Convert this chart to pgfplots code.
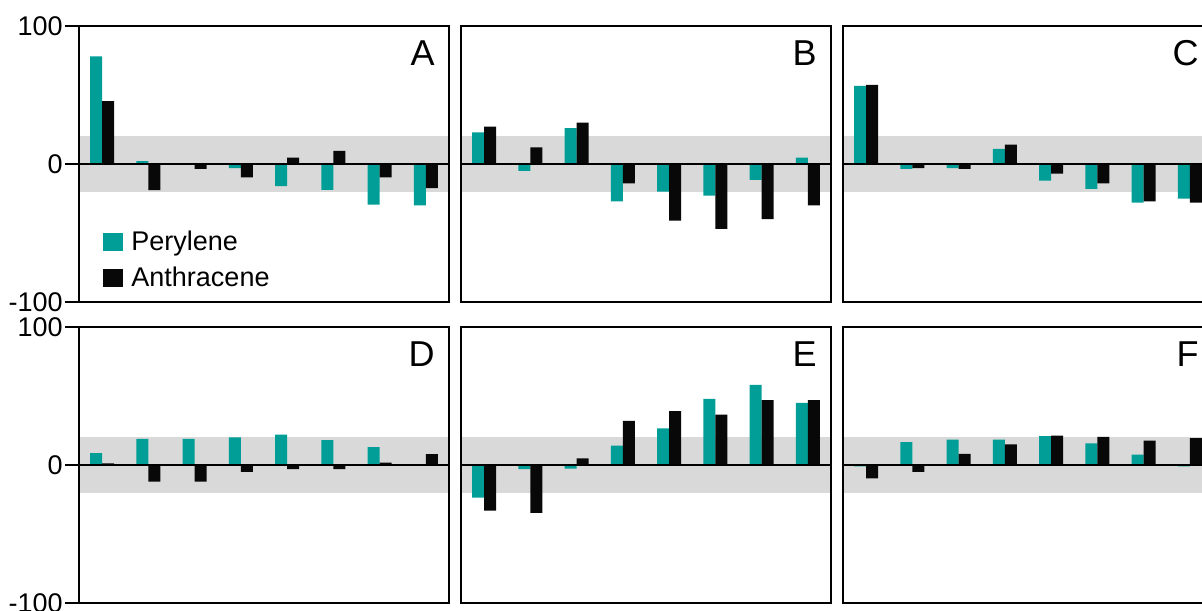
\documentclass[border=0pt]{standalone}
\usepackage{pgfplots}
\pgfplotsset{compat=1.18}
\usepackage{fontspec}
\setmainfont{Liberation Sans}
\definecolor{tealbar}{RGB}{0,158,150}
\definecolor{band}{RGB}{217,217,217}
\definecolor{blackbar}{RGB}{8,8,8}

\pgfplotsset{
  panel/.style={
    scale only axis, width=185pt, height=138pt,
    xmin=-0.5, xmax=7.5, ymin=-100, ymax=100,
    axis line style={line width=1pt},
    xtick=\empty, ytick=\empty,
    ybar, bar width=0.26,
    axis on top,
  },
  yaxisticks/.style={
    ytick={-100,0,100}, yticklabels={-100,0,100},
    ytick pos=left, tick align=outside, major tick length=7pt,
    tick style={line width=1pt, black},
    yticklabel style={font=\fontsize{13.5}{15}\selectfont, inner sep=1pt},
  },
  per/.style={fill=tealbar, draw=none, bar shift=-0.13},
  ant/.style={fill=blackbar, draw=none, bar shift=0.13},
}
\newcommand{\bandzero}{%
  \fill[band] (axis cs:-0.5,-20) rectangle (axis cs:7.5,20);}
\newcommand{\zeroline}{%
  \draw[line width=1pt] (axis cs:-0.5,0) -- (axis cs:7.5,0);}
\newcommand{\plabel}[1]{%
  \node[anchor=north east, inner sep=0pt, xshift=-7pt, yshift=-7pt,
        font=\fontsize{18}{20}\selectfont] at (rel axis cs:1,1) {#1};}

\begin{document}
\begin{tikzpicture}
\useasboundingbox (0,0) rectangle (601pt,-305pt);

% ---------- A ----------
\begin{axis}[panel, yaxisticks, at={(39.5pt,-151pt)}, anchor=south west,
  legend style={at={(rel axis cs:0.065,0.27)}, anchor=north west,
    draw=none, fill=none, inner sep=0pt, row sep=3.5pt,
    font=\fontsize{13.5}{15}\selectfont,
    nodes={inner sep=1.5pt},
    /tikz/every odd column/.append style={column sep=2.5pt}},
  legend cell align=left,
  legend image code/.code={\fill[#1] (0pt,-4.5pt) rectangle (10pt,4.5pt);}]
\bandzero
\addplot[per] coordinates {(0,78) (1,2) (2,0) (3,-3) (4,-16) (5,-18.7) (6,-29.5) (7,-30)};
\addplot[ant] coordinates {(0,45.6) (1,-19) (2,-3.6) (3,-9.6) (4,4.6) (5,9.6) (6,-9.6) (7,-17.5)};
\zeroline
\plabel{A}
\legend{Perylene,Anthracene}
\end{axis}

% ---------- B ----------
\begin{axis}[panel, at={(230.5pt,-151pt)}, anchor=south west]
\bandzero
\addplot[per] coordinates {(0,23) (1,-5) (2,26) (3,-27) (4,-20) (5,-23) (6,-11.5) (7,4.6)};
\addplot[ant] coordinates {(0,27) (1,12) (2,30) (3,-14) (4,-41) (5,-47) (6,-40) (7,-30)};
\zeroline
\plabel{B}
\end{axis}

% ---------- C ----------
\begin{axis}[panel, at={(421.5pt,-151pt)}, anchor=south west]
\bandzero
\addplot[per] coordinates {(0,56.7) (1,-3.6) (2,-3) (3,11) (4,-12) (5,-18) (6,-28) (7,-25)};
\addplot[ant] coordinates {(0,57.4) (1,-3) (2,-3.6) (3,14) (4,-7) (5,-14) (6,-27) (7,-28)};
\zeroline
\plabel{C}
\end{axis}

% ---------- D ----------
\begin{axis}[panel, yaxisticks, at={(39.5pt,-301.5pt)}, anchor=south west]
\bandzero
\addplot[per] coordinates {(0,8.7) (1,19) (2,19) (3,20) (4,22) (5,18) (6,13) (7,0)};
\addplot[ant] coordinates {(0,1.2) (1,-12) (2,-12) (3,-5) (4,-3) (5,-3) (6,1.7) (7,7.8)};
\zeroline
\plabel{D}
\end{axis}

% ---------- E ----------
\begin{axis}[panel, at={(230.5pt,-301.5pt)}, anchor=south west]
\bandzero
\addplot[per] coordinates {(0,-23.7) (1,-3) (2,-2.7) (3,14) (4,26.6) (5,48) (6,58) (7,45)};
\addplot[ant] coordinates {(0,-33) (1,-34.6) (2,4.8) (3,32) (4,39) (5,36.5) (6,47) (7,47)};
\zeroline
\plabel{E}
\end{axis}

% ---------- F ----------
\begin{axis}[panel, at={(421.5pt,-301.5pt)}, anchor=south west]
\bandzero
\addplot[per] coordinates {(0,-1) (1,16.5) (2,18.4) (3,18.4) (4,21) (5,15.7) (6,7.5) (7,-1)};
\addplot[ant] coordinates {(0,-9.7) (1,-5) (2,8) (3,15) (4,21.3) (5,20.3) (6,17.7) (7,19.4)};
\zeroline
\plabel{F}
\end{axis}
\end{tikzpicture}
\end{document}
